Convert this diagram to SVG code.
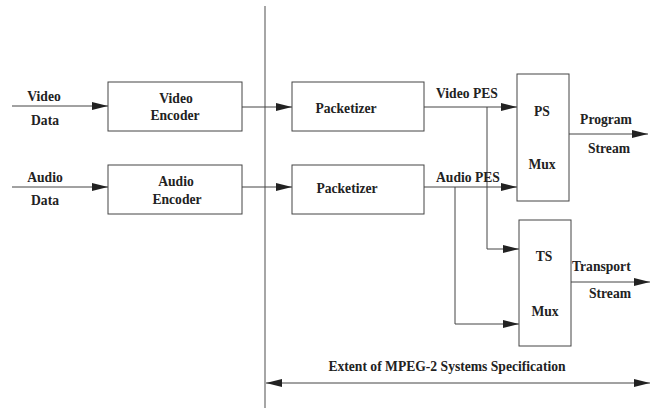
<svg xmlns="http://www.w3.org/2000/svg" width="654" height="408" viewBox="0 0 654 408">
<style>
text{font-family:"Liberation Serif","Times New Roman",serif;font-weight:bold;font-size:13.6px;fill:#222}
.m{text-anchor:middle}
.box{fill:#fff;stroke:#444;stroke-width:1}
.ln{fill:none;stroke:#444;stroke-width:1}
</style>
<defs>
<marker id="ah" markerWidth="16" markerHeight="8" refX="16" refY="4" orient="auto" markerUnits="userSpaceOnUse">
<path d="M0,0 L16,4 L0,8 Z" fill="#222"/>
</marker>
<marker id="as" markerWidth="16" markerHeight="8" refX="0" refY="4" orient="auto" markerUnits="userSpaceOnUse">
<path d="M16,0 L0,4 L16,8 Z" fill="#222"/>
</marker>
</defs>
<rect width="654" height="408" fill="#fff"/>
<line x1="265" y1="6" x2="265" y2="408" stroke="#888" stroke-width="1.5"/>
<g id="connectors">
<line class="ln" x1="12" y1="106" x2="108" y2="106" marker-end="url(#ah)"/>
<line class="ln" x1="12" y1="187" x2="108" y2="187" marker-end="url(#ah)"/>
<line class="ln" x1="242" y1="107" x2="292" y2="107" marker-end="url(#ah)"/>
<line class="ln" x1="242" y1="187" x2="292" y2="187" marker-end="url(#ah)"/>
<line class="ln" x1="424" y1="107" x2="517" y2="107" marker-end="url(#ah)"/>
<line class="ln" x1="424" y1="187" x2="517" y2="187" marker-end="url(#ah)"/>
<polyline class="ln" points="487,107 487,249 519,249" marker-end="url(#ah)"/>
<polyline class="ln" points="455,187 455,324 519,324" marker-end="url(#ah)"/>
<line class="ln" x1="569" y1="134" x2="648" y2="134" marker-end="url(#ah)"/>
<line class="ln" x1="571" y1="282" x2="650" y2="282" marker-end="url(#ah)"/>
<line class="ln" x1="266" y1="383" x2="650" y2="383" marker-start="url(#as)" marker-end="url(#ah)"/>
</g>
<g id="labels">
<text class="m" x="44" y="101">Video</text>
<text class="m" x="45" y="125">Data</text>
<text class="m" x="45" y="182">Audio</text>
<text class="m" x="45" y="205">Data</text>
<text x="436" y="98">Video PES</text>
<text x="436" y="182">Audio PES</text>
<text class="m" x="606" y="124">Program</text>
<text class="m" x="609" y="153">Stream</text>
<text x="572" y="271">Transport</text>
<text class="m" x="610" y="298">Stream</text>
<text class="m" x="447" y="371">Extent of MPEG-2 Systems Specification</text>
</g>
<g id="video-encoder">
<rect class="box" x="108" y="82" width="134" height="49"/>
<text class="m" x="176" y="103">Video</text>
<text class="m" x="175" y="120">Encoder</text>
</g>
<g id="audio-encoder">
<rect class="box" x="108" y="165" width="134" height="49"/>
<text class="m" x="176" y="186">Audio</text>
<text class="m" x="177" y="204">Encoder</text>
</g>
<g id="video-packetizer">
<rect class="box" x="292" y="82" width="132" height="49"/>
<text class="m" x="346" y="113">Packetizer</text>
</g>
<g id="audio-packetizer">
<rect class="box" x="292" y="165" width="132" height="49"/>
<text class="m" x="347" y="193">Packetizer</text>
</g>
<g id="ps-mux">
<rect class="box" x="517" y="74" width="52" height="127"/>
<text class="m" x="542" y="116">PS</text>
<text class="m" x="542" y="169">Mux</text>
</g>
<g id="ts-mux">
<rect class="box" x="519" y="220" width="52" height="126"/>
<text class="m" x="544" y="261">TS</text>
<text class="m" x="545" y="316">Mux</text>
</g>
</svg>
